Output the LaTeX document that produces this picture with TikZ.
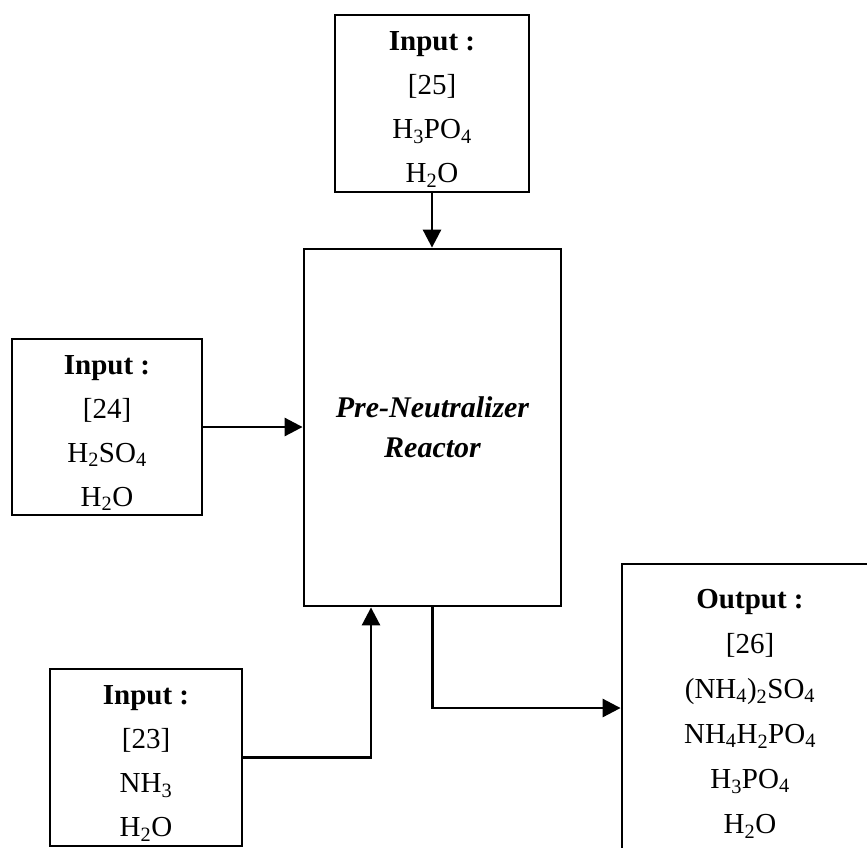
\documentclass[tikz,border=0pt]{standalone}
\usepackage{fontspec}
\setmainfont{Liberation Serif}
\usetikzlibrary{arrows.meta}
\newcommand{\chsub}[1]{\textsubscript{#1}}
\newcommand{\toppad}{\rule{0pt}{31pt}}
\tikzset{
  box/.style={draw, line width=2.8pt, inner sep=0pt, align=center,
    font=\fontsize{29}{44}\selectfont},
  arr/.style={line width=2.8pt, -{Triangle[length=18pt,width=18pt]}},
}
\begin{document}
\begin{tikzpicture}[x=1pt,y=-1pt]
\useasboundingbox (0,0) rectangle (867,847);
\node[box, minimum width=194pt, minimum height=177pt] (top) at (432,103.5)
  {\toppad\textbf{Input :}\\ {[25]}\\ H\chsub{3}PO\chsub{4}\\ H\chsub{2}O};
\node[box, minimum width=190pt, minimum height=176pt] (left) at (107,427)
  {\toppad\textbf{Input :}\\ {[24]}\\ H\chsub{2}SO\chsub{4}\\ H\chsub{2}O};
\node[box, minimum width=192pt, minimum height=177pt] (bl) at (146,757.5)
  {\toppad\textbf{Input :}\\ {[23]}\\ NH\chsub{3}\\ H\chsub{2}O};
\node[box, minimum width=257pt, minimum height=357pt, font=\fontsize{30}{40}\selectfont\bfseries\itshape] (reactor) at (432.5,427.5)
  {Pre-Neutralizer\\ Reactor};
\node[box, minimum width=256pt, minimum height=299pt, font=\fontsize{29}{45}\selectfont] (out) at (750,713.5)
  {\textbf{Output :}\\ {[26]}\\ (NH\chsub{4})\chsub{2}SO\chsub{4}\\ NH\chsub{4}H\chsub{2}PO\chsub{4}\\ H\chsub{3}PO\chsub{4}\\ H\chsub{2}O};
\draw[arr] (top.south) -- (top.south |- reactor.north);
\draw[arr] (left.east) -- (left.east -| reactor.west);
\draw[arr] (bl.east) -| ([xshift=-61.5pt]reactor.south);
\draw[arr] (reactor.south) |- ([yshift=5.5pt]out.west);
\end{tikzpicture}
\end{document}
